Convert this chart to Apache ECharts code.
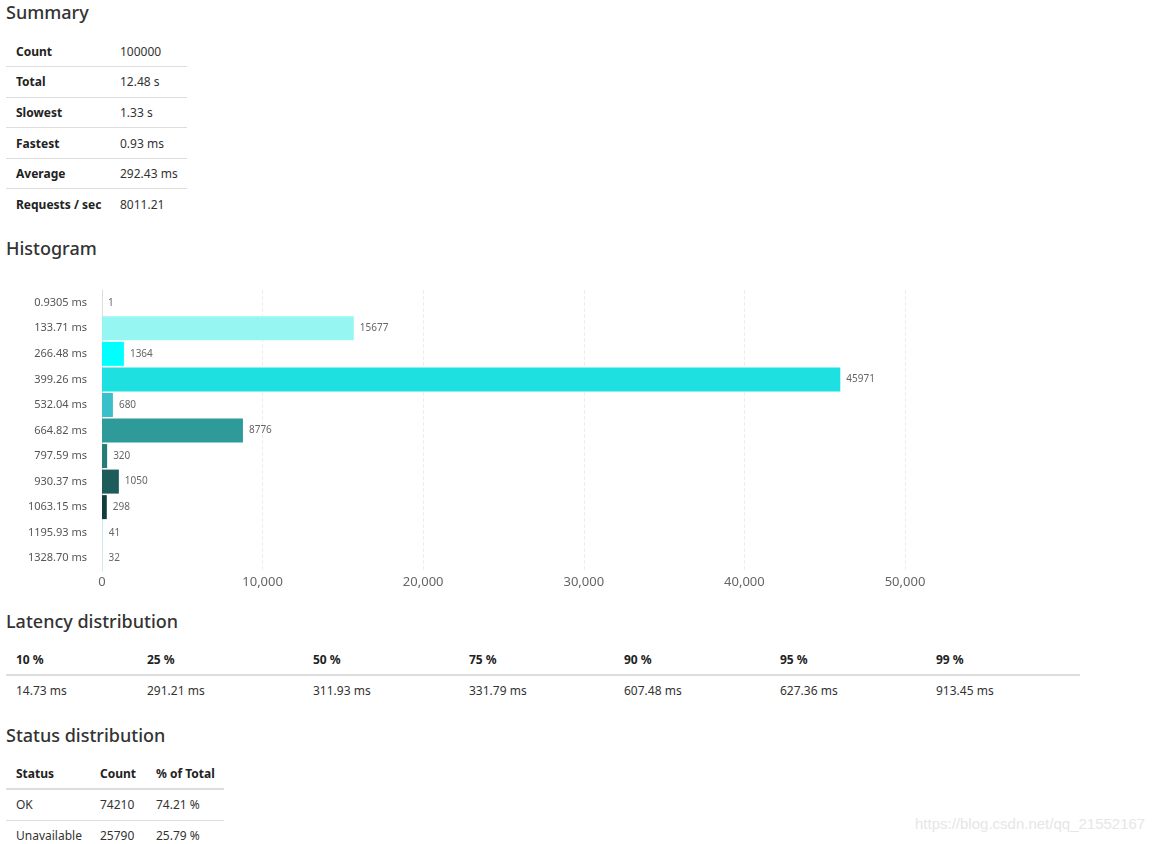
<!DOCTYPE html>
<html>
<head>
<meta charset="utf-8">
<script src="https://cdn.jsdelivr.net/npm/echarts@6/dist/echarts.min.js"></script>
<style>
  body { margin: 0; font-family: "Noto Sans", "Open Sans", sans-serif; color: #333; background: #fff; }
  h2 { position: absolute; left: 6px; margin: 0; font-size: 18px; font-weight: 500; color: #333; line-height: 24px; }
  table { position: absolute; left: 6px; border-collapse: collapse; font-size: 12px; table-layout: fixed; }
  td, th { padding: 0 10px; text-align: left; white-space: nowrap; box-sizing: border-box; }
  th { font-weight: bold; color: #222; }
  #summary td, #summary th { height: 30.6px; }
  #summary tr + tr td, #summary tr + tr th { border-top: 1px solid #ddd; }
  #latency th { height: 30px; border-bottom: 2px solid #ddd; }
  #latency td { height: 30px; }
  #status th { height: 30px; border-bottom: 2px solid #ddd; }
  #status td { height: 31px; }
  #status tr + tr td { border-top: 1px solid #ddd; }
  #status tr:nth-child(2) td { border-top: none; }
  #main { position: absolute; left: 0; top: 281px; width: 1000px; height: 320px; }
  #mark { position: absolute; left: 915px; top: 815px; font-size: 15px; color: #e6e6e6; font-family: "Liberation Sans", sans-serif; }
</style>
</head>
<body>
<h2 style="top:0px">Summary</h2>
<table id="summary" style="top:36px; width:181px">
  <colgroup><col style="width:104px"><col style="width:77px"></colgroup>
  <tr><th>Count</th><td>100000</td></tr>
  <tr><th>Total</th><td>12.48 s</td></tr>
  <tr><th>Slowest</th><td>1.33 s</td></tr>
  <tr><th>Fastest</th><td>0.93 ms</td></tr>
  <tr><th>Average</th><td>292.43 ms</td></tr>
  <tr><th>Requests / sec</th><td>8011.21</td></tr>
</table>

<h2 style="top:236px">Histogram</h2>
<div id="main"></div>

<h2 style="top:609px">Latency distribution</h2>
<table id="latency" style="top:645px; width:1074px">
  <colgroup id="latCols"></colgroup>
  <tr id="latHead"></tr>
  <tr id="latBody"></tr>
</table>

<h2 style="top:723px">Status distribution</h2>
<table id="status" style="top:759px; width:218px">
  <colgroup><col style="width:84px"><col style="width:56px"><col style="width:78px"></colgroup>
  <tr><th>Status</th><th>Count</th><th>% of Total</th></tr>
  <tr><td>OK</td><td>74210</td><td>74.21 %</td></tr>
  <tr><td>Unavailable</td><td>25790</td><td>25.79 %</td></tr>
</table>

<div id="mark">https://blog.csdn.net/qq_21552167</div>

<script>
// 直方图数据
var buckets = ['0.9305 ms', '133.71 ms', '266.48 ms', '399.26 ms', '532.04 ms', '664.82 ms',
  '797.59 ms', '930.37 ms', '1063.15 ms', '1195.93 ms', '1328.70 ms'];
var counts = [1, 15677, 1364, 45971, 680, 8776, 320, 1050, 298, 41, 32];
var barColors = ['#b4f5f0', '#96f7f2', '#00ffff', '#1ee0e0', '#3bbfc8', '#2e9a9a',
  '#267c78', '#1e5c5c', '#133c3c', '#b8f4f4', '#c6f6f6'];

// 延迟分布
var percentiles = ['10 %', '25 %', '50 %', '75 %', '90 %', '95 %', '99 %'];
var latencies = ['14.73 ms', '291.21 ms', '311.93 ms', '331.79 ms', '607.48 ms', '627.36 ms', '913.45 ms'];
var colWidths = [131, 166, 156, 155, 156, 156, 154];

var cols = document.getElementById('latCols');
var head = document.getElementById('latHead');
var body = document.getElementById('latBody');
percentiles.forEach(function (p, i) {
  var col = document.createElement('col');
  col.style.width = colWidths[i] + 'px';
  cols.appendChild(col);
  var th = document.createElement('th');
  th.textContent = p;
  head.appendChild(th);
  var td = document.createElement('td');
  td.textContent = latencies[i];
  body.appendChild(td);
});

var myChart = echarts.init(document.getElementById('main'));
var option = {
  animation: false,
  grid: { left: 102, right: 95, top: 9, bottom: 30 },
  xAxis: {
    type: 'value',
    min: 0,
    max: 50000,
    interval: 10000,
    axisLine: { show: false },
    axisTick: { show: false },
    axisLabel: {
      margin: 5,
      fontSize: 13,
      color: '#666',
      fontFamily: 'Noto Sans',
      formatter: function (v) { return v.toLocaleString('en-US'); }
    },
    splitLine: { lineStyle: { type: 'dashed', color: '#eee' } }
  },
  yAxis: {
    type: 'category',
    inverse: true,
    data: buckets,
    axisLine: { lineStyle: { color: '#ddd', width: 1 } },
    axisTick: { show: false },
    axisLabel: { margin: 15, fontSize: 11, color: '#555', fontFamily: 'Noto Sans' }
  },
  series: [{
    type: 'bar',
    barCategoryGap: '6%',
    data: counts.map(function (v, i) {
      return { value: v, itemStyle: { color: barColors[i] } };
    }),
    label: {
      show: true,
      position: 'right',
      distance: 6,
      fontSize: 10,
      color: '#666',
      fontFamily: 'Noto Sans'
    }
  }]
};
myChart.setOption(option);
</script>
</body>
</html>
